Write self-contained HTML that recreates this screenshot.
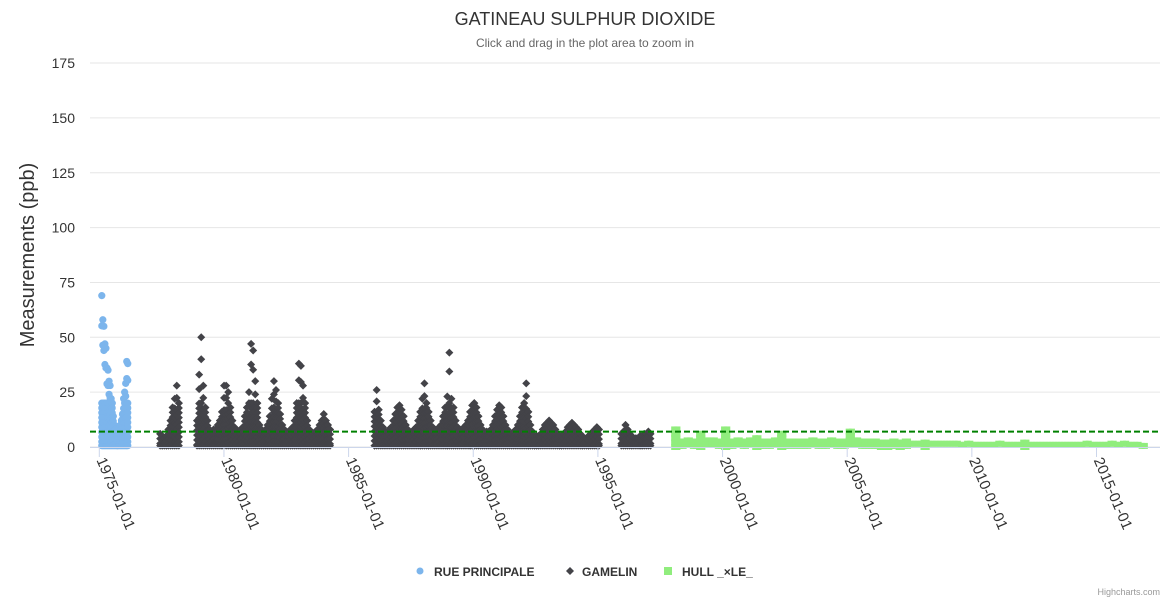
<!DOCTYPE html>
<html><head><meta charset="utf-8"><style>
body{margin:0;background:#fff;}
svg{display:block;font-family:"Liberation Sans","DejaVu Sans",sans-serif;}
</style></head><body>
<svg id="chart" width="1170" height="600" viewBox="0 0 1170 600">
<rect x="0" y="0" width="1170" height="600" fill="#fff"/>
<text x="585" y="25" text-anchor="middle" font-size="18" fill="#333">GATINEAU SULPHUR DIOXIDE</text>
<text x="585" y="47" text-anchor="middle" font-size="12" fill="#666">Click and drag in the plot area to zoom in</text>
<text transform="translate(34,255) rotate(-90)" text-anchor="middle" font-size="20" fill="#333">Measurements (ppb)</text>
<g id="grid"></g>
<g id="series"></g>
<g id="xaxis"></g>
<g id="legend">
 <g><circle cx="420" cy="571" r="3.5" fill="#7cb5ec"/><text x="434" y="576" font-size="12" font-weight="bold" fill="#333">RUE PRINCIPALE</text></g>
 <g><path d="M570 567 L574 571 L570 575 L566 571Z" fill="#434348"/><text x="582" y="576" font-size="12" font-weight="bold" fill="#333">GAMELIN</text></g>
 <g><rect x="664" y="567" width="8" height="8" fill="#90ed7d"/><text x="682" y="576" font-size="12" font-weight="bold" fill="#333">HULL _×LE_</text></g>
</g>
<text x="1160" y="595" text-anchor="end" font-size="9" fill="#999">Highcharts.com</text>
</svg>
<script>
const yTicks = [0,25,50,75,100,125,150,175];
const xTickYears = [1975,1980,1985,1990,1995,2000,2005,2010,2015];
const threshold = 7;
// Rue Principale: half-month readings from 1975.1
const rueStart = 1975.1;
const rueValues = [69,58,55,47,45,36,35,30,28,22,20,14,10,8,6,5,6,8,10,12,15,22,25,29,39,38];
// Gamelin monthly maxima, per segment (start year, values)
const gamelinStarts = [1977.4, 1978.88, 1986.0, 1995.9];
const gamelinSeg1 = [6,5,4,5,8,12,18,22,28,20];
const gamelinSeg2 = [12,33,50,28,18,12,8,7,8,8,10,12,16,28,28,25,18,12,9,8,7,8,9,14,18,25,47,44,30,20,10,8,7,8,10,14,22,30,26,20,15,10,8,7,7,8,9,12,20,38,37,28,20,12,8,7,6,7,8,10,12,15,12,10,8];
const gamelinSeg3 = [16,26,17,12,9,7,7,8,9,12,15,18, 19,17,14,10,8,7,7,8,9,12,16,22, 29,20,16,12,9,8,8,9,10,14,18,23, 43,22,18,12,9,8,8,9,10,12,16,19, 20,18,14,10,8,7,7,7,8,10,14,17, 19,18,14,10,8,6,6,7,8,10,14,18, 20,29,16,10,7,5,5,5,6,8,10,11, 12,11,10,8,6,5,5,6,7,9,10,11, 10,9,8,6,5,4,4,5,6,7,8,9, 8];
const gamelinSeg4 = [6,7,10,8,6,5,4,4,4,5,5,6,6,7,6];
// Hull: quarterly values from 1998.0
const hullStart = 1998.0;
const hullValues = [8,2.5,3,2.5, 6,3,3,2.5, 8,2.5,3,2.5, 3,4,2.5,2.5, 3,6,2.5,2.5, 2.5,2.5,3,2.5, 2.5,3,2.5,2.5, 7,3,2.5,2.5, 2.5,2,2,2.5, 2,2.5,1.5,1.5, 2,1.5,1.5,1.5, 1.5,1.5,1,1.5, 1,1,1,1, 1.5,1,1,1, 2,1,1,1, 1,1,1,1, 1,1,1.5,1, 1,1,1.5,1, 1.5,1,1,0.5];

const NS='http://www.w3.org/2000/svg';
const X0=99.3, PPY=24.93, Y0=447, PPU=2.194;
function xs(yr){return X0+(yr-1975)*PPY;}
function ys(v){return Y0-v*PPU;}
function mk(tag,attrs,parent){const e=document.createElementNS(NS,tag);for(const k in attrs)e.setAttribute(k,attrs[k]);parent.appendChild(e);return e;}
const grid=document.getElementById('grid'), ser=document.getElementById('series'), xa=document.getElementById('xaxis');
yTicks.forEach(t=>{
  const l=mk('line',{x1:90,x2:1160,y1:ys(t),y2:ys(t),stroke:'#e6e6e6','stroke-width':1},grid);
  
  
  const tx=mk('text',{x:75,y:ys(t)+5,'text-anchor':'end','font-size':14,fill:'#333'},grid);
  tx.textContent=t;
  
  
});
const ax=mk('line',{x1:90,x2:1160,y1:Y0+0.5,y2:Y0+0.5,stroke:'#ccd6eb','stroke-width':1},xa);


xTickYears.forEach(yr=>{
  const x=xs(yr);
  const tk=mk('line',{x1:x,x2:x,y1:Y0,y2:Y0+10,stroke:'#ccd6eb','stroke-width':1},xa);
  
  
  const t=mk('text',{x:0,y:0,'font-size':15,fill:'#333',transform:`translate(${x-3},${Y0+13}) rotate(67)`},xa);
  t.textContent=yr+'-01-01';
  
  
});
function fillLevels(h){
  const out=[h];
  const body=h>20?Math.min(h*0.6,20):h;
  for(let v=body;v>0.5;v-=2.2)out.push(v);
  if(h>20){out.push(h*0.8);}
  out.push(0.6);
  return out;
}
function circle(x,v){const c=mk('circle',{cx:x,cy:ys(v),r:3.6,fill:'#7cb5ec'},ser);
  
  }
function diamond(x,v){const y=ys(v);const p=mk('path',{d:`M${x} ${y-4}L${x+4} ${y}L${x} ${y+4}L${x-4} ${y}Z`,fill:'#434348'},ser);
  
  }
function square(x,v){const y=ys(v);const r=mk('rect',{x:x-3,y:y-3,width:6,height:6,fill:'#90ed7d'},ser);
  
  }
// Hull
hullValues.forEach((v,i)=>{
  const yr=hullStart+i*0.25;
  [0.06,0.19].forEach(o=>{const x=xs(yr+o);for(let w=v;w>-0.5;w-=2)square(x,Math.max(w,0));});
});
// Gamelin
[gamelinSeg1,gamelinSeg2,gamelinSeg3,gamelinSeg4].forEach((seg,si)=>{
  seg.forEach((h,i)=>{const x=xs(gamelinStarts[si]+i/12+1/24);fillLevels(h).forEach(v=>diamond(x,v));});
});
// Rue Principale
rueValues.forEach((h,i)=>{const x=xs(rueStart+i/24);fillLevels(h).forEach(v=>circle(x,v));});
// threshold
const th=mk('line',{x1:90,x2:1160,y1:ys(threshold),y2:ys(threshold),stroke:'#008000','stroke-width':2,'stroke-dasharray':'6,3'},ser);


</script>
</body></html>
